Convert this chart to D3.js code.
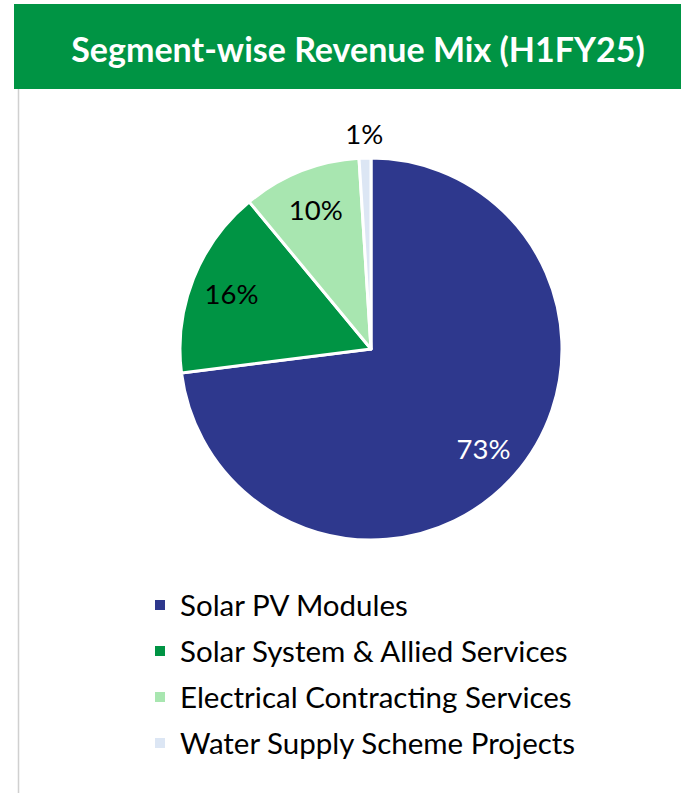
<!DOCTYPE html>
<html>
<head>
<meta charset="utf-8">
<script src="https://cdn.jsdelivr.net/npm/d3@7"></script>
<style>
  body { margin: 0; background: #fff; }
  svg { display: block; font-family: "Lato", "Open Sans", sans-serif; }
</style>
</head>
<body>
<div id="chart"></div>
<script>
let segments = [
  "Solar PV Modules",
  "Solar System & Allied Services",
  "Electrical Contracting Services",
  "Water Supply Scheme Projects",
];
let shares = [73, 16, 10, 1];
let colors = ["#2E388D", "#009444", "#A8E6B0", "#DCE6F4"];
let labelColors = ["#fff", "#000", "#000", "#000"];

let width = 681,
  height = 793;

let svg = d3
  .select("#chart")
  .append("svg")
  .attr("width", width)
  .attr("height", height);

// header band
svg
  .append("rect")
  .attr("x", 14)
  .attr("y", 4)
  .attr("width", width - 14)
  .attr("height", 85)
  .attr("fill", "#009444");

svg
  .append("text")
  .attr("x", 358)
  .attr("y", 48)
  .attr("text-anchor", "middle")
  .attr("dominant-baseline", "central")
  .attr("fill", "#fff")
  .attr("font-weight", "bold")
  .attr("font-size", 34)
  .text("Segment-wise Revenue Mix (H1FY25)");

// left border
svg
  .append("line")
  .attr("x1", 18.5)
  .attr("x2", 18.5)
  .attr("y1", 89)
  .attr("y2", height)
  .attr("stroke", "#d0d0d0")
  .attr("stroke-width", 1.5);

// pie
let cx = 371,
  cy = 349,
  radius = 191;

let pie = d3.pie().sort(null).value((d) => d);
let arcs = pie(shares);
let arc = d3.arc().innerRadius(0).outerRadius(radius);
let labelArc = d3.arc().innerRadius(150).outerRadius(150);
let outerLabelArc = d3.arc().innerRadius(216).outerRadius(216);

let g = svg.append("g").attr("transform", `translate(${cx},${cy})`);

g.selectAll("path")
  .data(arcs)
  .join("path")
  .attr("d", arc)
  .attr("fill", (d, i) => colors[i])
  .attr("stroke", "#fff")
  .attr("stroke-width", 3)
  .attr("stroke-linejoin", "round");

g.selectAll("text")
  .data(arcs)
  .join("text")
  .attr("transform", (d) => {
    let c = d.data < 5 ? outerLabelArc.centroid(d) : labelArc.centroid(d);
    return `translate(${c})`;
  })
  .attr("text-anchor", "middle")
  .attr("dominant-baseline", "central")
  .attr("font-size", 27.5)
  .attr("fill", (d, i) => labelColors[i])
  .text((d) => d.data + "%");

// legend
let legend = svg
  .append("g")
  .selectAll("g")
  .data(segments)
  .join("g")
  .attr("transform", (d, i) => `translate(155,${604 + i * 46})`);

legend
  .append("rect")
  .attr("x", 0)
  .attr("y", -4)
  .attr("width", 10)
  .attr("height", 10)
  .attr("fill", (d, i) => colors[i]);

legend
  .append("text")
  .attr("x", 25)
  .attr("y", 0)
  .attr("dominant-baseline", "central")
  .attr("font-size", 29.5)
  .attr("fill", "#000")
  .text((d) => d);
</script>
</body>
</html>
